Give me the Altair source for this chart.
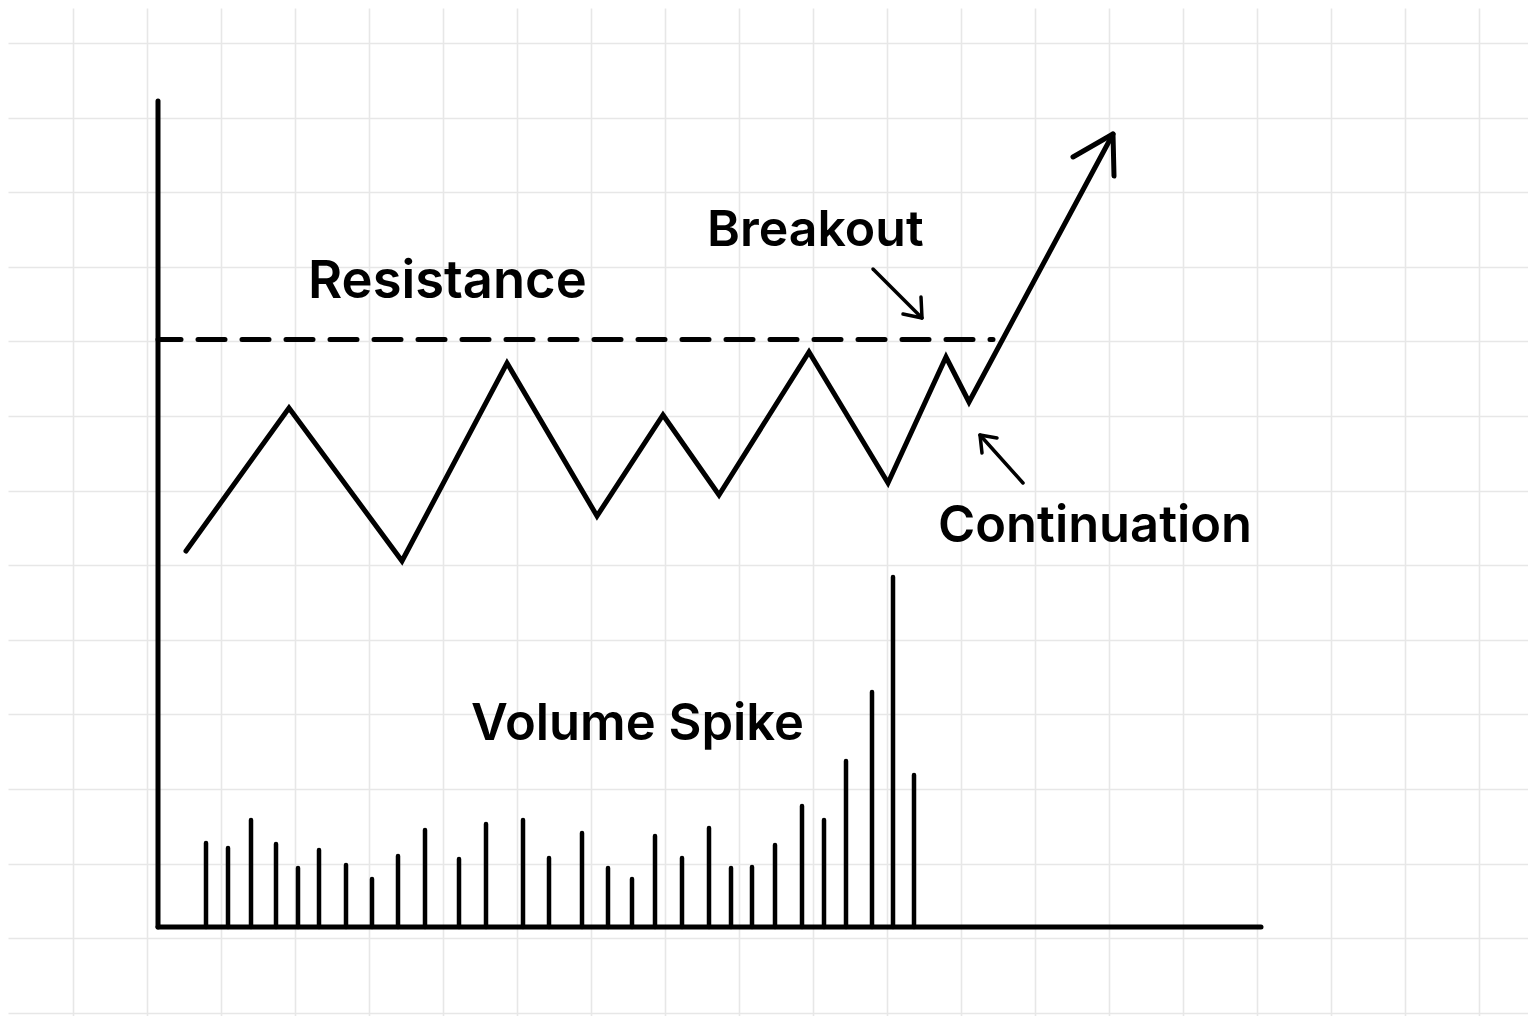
import altair as alt
import pandas as pd

# ---- data (x: time units from axis origin, y: price/volume units above baseline) ----
grid_x = [-159, -85, -11, 63, 137, 211, 285, 359, 433, 507, 581, 655, 729, 803, 877, 951, 1025, 1099, 1173, 1247, 1321, 1395]
grid_y = [959, 884, 809, 735, 660, 586, 511, 436, 362, 287, 213, 138, 63, -11, -86]

vol_x = [48, 70, 93, 118, 140, 161, 188, 214, 240, 267, 301, 328, 365, 391, 424,
         450, 474, 497, 524, 551, 573, 594, 617, 644, 666, 688, 714, 735, 756]
vol_h = [84, 79, 107, 83, 59, 77, 62, 48, 71, 97, 68, 103, 107, 69, 94,
         59, 48, 91, 69, 99, 59, 60, 82, 121, 107, 166, 235, 350, 152]

price_x = [28, 131, 244, 349, 439, 505, 561, 651, 730, 788, 811, 955]
price_y = [376, 519, 366, 564, 411, 512, 432, 575, 444, 570, 525, 793]
arrow_head_x = [915, 955, 956]
arrow_head_y = [770, 793, 751]

resistance_level = 587.5
resistance_x = [0, 835]

axis_y_top = 826
axis_x_end = 1103

breakout_arrow_x = [715, 764]
breakout_arrow_y = [658, 609]
breakout_head_x = [745, 764, 763]
breakout_head_y = [613, 609, 630]

cont_arrow_x = [865, 822]
cont_arrow_y = [444, 492]
cont_head_x = [824, 822, 839]
cont_head_y = [474, 492, 489]

labels = ["Resistance", "Breakout", "Continuation", "Volume Spike"]
label_x = [150, 549, 780, 313]
label_y = [629, 681, 385, 187]
label_size = [52.5, 50, 50.6, 50.7]

# ---- scales shared by every layer ----
XS = alt.Scale(domain=[-150, 1370], range=[0, 1520], nice=False, zero=False)
YS = alt.Scale(domain=[-89, 919], range=[1008, 0], nice=False, zero=False)
XA = alt.Axis(values=grid_x, grid=True, gridColor="#e7e7e7", gridWidth=1.6,
              domain=False, labels=False, ticks=False, title=None)
YA = alt.Axis(values=grid_y, grid=True, gridColor="#e7e7e7", gridWidth=1.6,
              domain=False, labels=False, ticks=False, title=None)


def X(f):
    return alt.X(f, type="quantitative", scale=XS, axis=XA)


def Y(f):
    return alt.Y(f, type="quantitative", scale=YS, axis=YA)


# axes as rules
axes_df = pd.DataFrame({"x": [0, 0], "x2": [0, axis_x_end], "y": [0, 0], "y2": [axis_y_top, 0]})
axes = alt.Chart(axes_df).mark_rule(color="#000", strokeWidth=5, strokeCap="round").encode(
    x=X("x"), x2="x2", y=Y("y"), y2="y2")

vol_df = pd.DataFrame({"x": vol_x, "v": vol_h, "b": [0] * len(vol_x)})
bars = alt.Chart(vol_df).mark_rule(color="#000", strokeWidth=4.5, strokeCap="round").encode(
    x=X("x"), y=Y("b"), y2="v")

res_df = pd.DataFrame({"x": resistance_x, "y": [resistance_level] * 2})
res = alt.Chart(res_df).mark_line(color="#000", strokeWidth=5, strokeCap="round",
                                  strokeDash=[27, 17], strokeDashOffset=4).encode(
    x=X("x"), y=Y("y"))

price_df = pd.DataFrame({"x": price_x, "y": price_y, "o": list(range(len(price_x)))})
price = alt.Chart(price_df).mark_line(color="#000", strokeWidth=5, strokeCap="round",
                                      strokeJoin="miter").encode(
    x=X("x"), y=Y("y"), order="o")

head_df = pd.DataFrame({"x": arrow_head_x, "y": arrow_head_y, "o": [0, 1, 2]})
head = alt.Chart(head_df).mark_line(color="#000", strokeWidth=5, strokeCap="round",
                                    strokeJoin="round").encode(
    x=X("x"), y=Y("y"), order="o")

small_rows = []
for name, xs, ys in [("b_shaft", breakout_arrow_x, breakout_arrow_y),
                     ("b_head", breakout_head_x, breakout_head_y),
                     ("c_shaft", cont_arrow_x, cont_arrow_y),
                     ("c_head", cont_head_x, cont_head_y)]:
    for i, (a, b) in enumerate(zip(xs, ys)):
        small_rows.append({"seg": name, "x": a, "y": b, "o": i})
small_df = pd.DataFrame(small_rows)
small = alt.Chart(small_df).mark_line(color="#000", strokeWidth=3.5, strokeCap="round",
                                      strokeJoin="round").encode(
    x=X("x"), y=Y("y"), detail="seg", order="o")

lab_df = pd.DataFrame({"t": labels, "x": label_x, "y": label_y, "fs": label_size})
text = alt.Chart(lab_df).mark_text(align="left", baseline="alphabetic", font="Inter",
                                   fontWeight=600, color="#000").encode(
    x=X("x"), y=Y("y"), text="t", size=alt.Size("fs", scale=None, legend=None))

chart = alt.layer(axes, bars, res, price, head, small, text).properties(
    width=1520, height=1008, padding=0, autosize=alt.AutoSizeParams(type="none"),
    background="#ffffff"
).configure_view(stroke=None)

chart.save("out.html", embed_options={"renderer": "svg", "actions": False})
